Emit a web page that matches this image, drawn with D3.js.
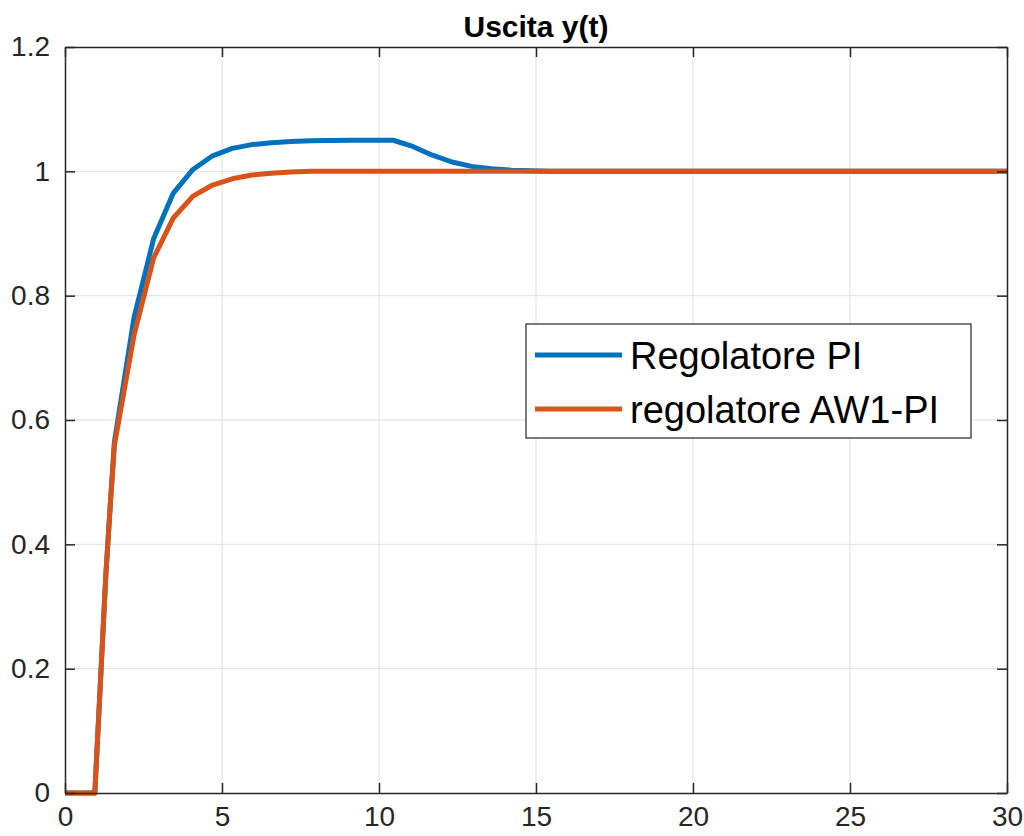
<!DOCTYPE html>
<html>
<head>
<meta charset="utf-8">
<script src="https://cdn.jsdelivr.net/npm/d3@7"></script>
<style>
  body { margin: 0; background: #fff; }
  svg { display: block; font-family: "Liberation Sans", Arial, sans-serif; }
</style>
</head>
<body>
<div id="chart"></div>
<script>
// sample times (s)
const times = [0, 0.95, 1.15, 1.3, 1.45, 1.575, 2.2, 2.825, 3.45, 4.075, 4.7, 5.325, 5.95,
  6.575, 7.2, 7.825, 8.45, 9.075, 9.7, 10.45, 11.075, 11.7, 12.325, 12.95, 13.575, 14.2,
  14.825, 15.45, 17, 20, 25, 30];
// Regolatore PI
const yPI = [0, 0, 0.2, 0.35, 0.47, 0.565, 0.765, 0.892, 0.965, 1.003, 1.025, 1.037, 1.043,
  1.046, 1.048, 1.049, 1.0495, 1.05, 1.05, 1.05, 1.04, 1.026, 1.015, 1.008, 1.004, 1.002,
  1.001, 1.0, 1.0, 1.0, 1.0, 1.0];
// regolatore AW1-PI
const yAW = [0, 0, 0.2, 0.35, 0.47, 0.56, 0.737, 0.861, 0.925, 0.96, 0.978, 0.988, 0.994,
  0.997, 0.999, 1.0, 1.0, 1.0, 1.0, 1.0, 1.0, 1.0, 1.0, 1.0, 1.0, 1.0,
  1.0, 1.0, 1.0, 1.0, 1.0, 1.0];

const seriesNames = ["Regolatore PI", "regolatore AW1-PI"];
const colors = ["#0072BD", "#D95319"];
const xTicks = [0, 5, 10, 15, 20, 25, 30];
const yTicks = [0, 0.2, 0.4, 0.6, 0.8, 1, 1.2];

const width = 1024, height = 836;
const margin = {top: 47, right: 17, bottom: 43, left: 65};
const axisColor = "#262626";

const svg = d3.select("#chart").append("svg")
  .attr("width", width).attr("height", height);

const x = d3.scaleLinear().domain([0, 30]).range([margin.left, width - margin.right]);
const y = d3.scaleLinear().domain([0, 1.2]).range([height - margin.bottom, margin.top]);

// grid
svg.append("g").selectAll("line").data(xTicks.slice(1, -1)).enter().append("line")
  .attr("x1", d => x(d)).attr("x2", d => x(d))
  .attr("y1", y(0)).attr("y2", y(1.2))
  .attr("stroke", "#dfdfdf").attr("stroke-width", 1);
svg.append("g").selectAll("line").data(yTicks.slice(1, -1)).enter().append("line")
  .attr("y1", d => y(d)).attr("y2", d => y(d))
  .attr("x1", x(0)).attr("x2", x(30))
  .attr("stroke", "#dfdfdf").attr("stroke-width", 1);

// curves
const line = d3.line().x((d, i) => x(times[i])).y(d => y(d));
[yPI, yAW].forEach((s, k) => {
  svg.append("path").datum(s)
    .attr("d", line)
    .attr("fill", "none")
    .attr("stroke", colors[k])
    .attr("stroke-width", 5)
    .attr("stroke-linejoin", "round");
});

// axes (box with inner ticks on all sides)
function styleAxis(g) {
  g.select(".domain").attr("stroke", axisColor).attr("stroke-width", 1.5);
  g.selectAll(".tick line").attr("stroke", axisColor).attr("stroke-width", 1.5);
  g.selectAll("text").attr("fill", axisColor).style("font-size", "28px")
    .style("font-family", "'Liberation Sans', Arial, sans-serif");
}
const axBottom = svg.append("g").attr("transform", `translate(0,${y(0)})`)
  .call(d3.axisBottom(x).tickValues(xTicks).tickSizeInner(-10).tickSizeOuter(0).tickPadding(13).tickFormat(d3.format("d")));
styleAxis(axBottom);
const axTop = svg.append("g").attr("transform", `translate(0,${y(1.2)})`)
  .call(d3.axisTop(x).tickValues(xTicks).tickSizeInner(-10).tickSizeOuter(0).tickFormat(""));
styleAxis(axTop);
const axLeft = svg.append("g").attr("transform", `translate(${x(0)},0)`)
  .call(d3.axisLeft(y).tickValues(yTicks).tickSizeInner(-10).tickSizeOuter(0).tickPadding(15).tickFormat(d => d === 0 || d === 1 ? d3.format("d")(d) : d3.format(".1f")(d)));
styleAxis(axLeft);
const axRight = svg.append("g").attr("transform", `translate(${x(30)},0)`)
  .call(d3.axisRight(y).tickValues(yTicks).tickSizeInner(-10).tickSizeOuter(0).tickFormat(""));
styleAxis(axRight);

// title
svg.append("text")
  .attr("x", (x(0) + x(30)) / 2).attr("y", 37)
  .attr("text-anchor", "middle")
  .attr("font-weight", "bold").attr("font-size", 30)
  .attr("fill", "#000")
  .text("Uscita y(t)");

// legend
const lg = svg.append("g").attr("transform", "translate(526,324)");
lg.append("rect").attr("width", 445).attr("height", 114)
  .attr("fill", "#fff").attr("stroke", axisColor).attr("stroke-width", 1.2);
seriesNames.forEach((name, i) => {
  const cy = 31 + i * 54;
  lg.append("line").attr("x1", 9).attr("x2", 96).attr("y1", cy).attr("y2", cy)
    .attr("stroke", colors[i]).attr("stroke-width", 5);
  lg.append("text").attr("x", 104).attr("y", cy + 14)
    .attr("font-size", 38).attr("fill", "#000").text(name);
});
</script>
</body>
</html>
